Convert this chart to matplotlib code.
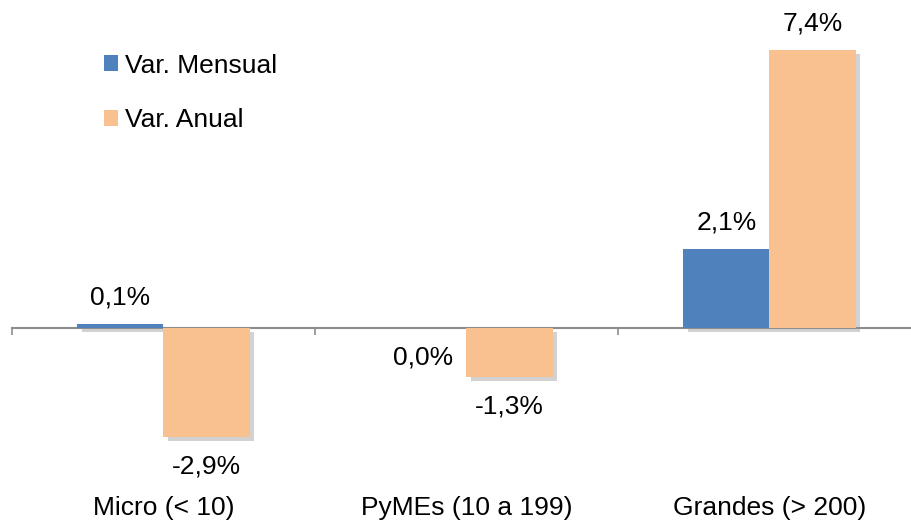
import numpy as np
import matplotlib.pyplot as plt
import matplotlib.patheffects as pe

# === DATA ===
categories = ["Micro (< 10)", "PyMEs (10 a 199)", "Grandes (> 200)"]
var_mensual = [0.1, 0.0, 2.1]
var_anual = [-2.9, -1.3, 7.4]
series_names = ["Var. Mensual", "Var. Anual"]

BLUE = "#4F81BD"
ORANGE = "#F9C090"
AXIS_GRAY = "#8C8C8C"

plt.rcParams["font.family"] = ["Liberation Sans", "DejaVu Sans"]

fig = plt.figure(figsize=(9.12, 5.25), dpi=100)
ax = fig.add_axes([12 / 912, 0, 909 / 912, 1])

x = np.arange(len(categories))
w = 0.284
shadow = [pe.SimplePatchShadow(offset=(3, -3), shadow_rgbFace="#8f8f8f", alpha=0.4), pe.Normal()]

b1 = ax.bar(x - w / 2, var_mensual, w, color=BLUE, label=series_names[0], zorder=3)
b2 = ax.bar(x + w / 2, var_anual, w, color=ORANGE, label=series_names[1], zorder=3)

# legend first, so its handles don't pick up the shadow
leg = ax.legend(loc="upper left", bbox_to_anchor=(0.0895, 0.918), frameon=False, fontsize=19,
                handlelength=0.55, handleheight=0.55, handletextpad=0.25, labelspacing=1.15,
                borderaxespad=0)

for bar in list(b1) + list(b2):
    bar.set_path_effects(shadow)
for h in leg.legend_handles:
    h.set_path_effects([])

def fmt(v):
    return f"{v:.1f}%".replace(".", ",")

for bars, vals in ((b1, var_mensual), (b2, var_anual)):
    for bar, v in zip(bars, vals):
        cx = bar.get_x() + bar.get_width() / 2
        off = 19 if v > 0 else -21
        ax.annotate(fmt(v), (cx, v), xytext=(0, off), textcoords="offset points",
                    ha="center", va="center", fontsize=19)

for i, c in enumerate(categories):
    ax.text(i, -4.79, c, ha="center", va="center", fontsize=19)

ax.set_xlim(-0.5, 2.5)
ax.set_ylim(-197 / 37.6, 328 / 37.6)

for s in ("top", "right", "left"):
    ax.spines[s].set_visible(False)
ax.spines["bottom"].set_position(("data", 0))
ax.spines["bottom"].set_color(AXIS_GRAY)
ax.spines["bottom"].set_linewidth(1.5)
ax.set_xticks([-0.5, 0.5, 1.5, 2.5])
ax.set_xticklabels([])
ax.tick_params(axis="x", direction="out", length=5, width=1.2, color=AXIS_GRAY)
ax.set_yticks([])

fig.savefig("out.png", dpi=100)
